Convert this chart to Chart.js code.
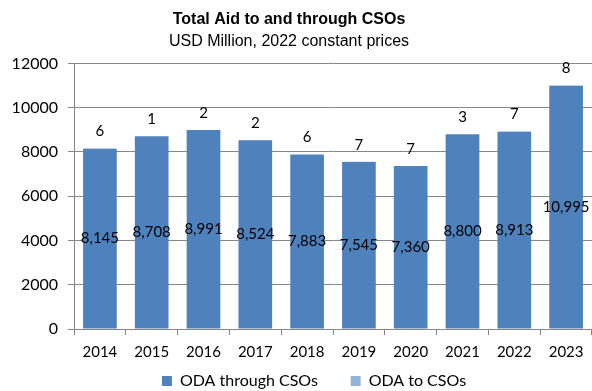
<!DOCTYPE html>
<html>
<head>
<meta charset="utf-8">
<script src="https://cdn.jsdelivr.net/npm/chart.js@4"></script>
<style>
  html, body { margin: 0; padding: 0; background: #fff; }
  #wrap { width: 592px; height: 391px; }
</style>
</head>
<body>
<div id="wrap"><canvas id="aid"></canvas></div>
<script>
const years = ["2014", "2015", "2016", "2017", "2018", "2019", "2020", "2021", "2022", "2023"];
const odaThrough = [8145, 8708, 8991, 8524, 7883, 7545, 7360, 8800, 8913, 10995];
const odaTo = [6, 1, 2, 2, 6, 7, 7, 3, 7, 8];
const yTicks = [0, 2000, 4000, 6000, 8000, 10000, 12000];

const labelFont = "Lato, 'Open Sans', sans-serif";

// draws the value labels like the Excel data labels
const barLabels = {
    id: "barLabels",
    afterDatasetsDraw(chart) {
        const ctx = chart.ctx;
        ctx.save();
        ctx.font = "15px " + labelFont;
        ctx.fillStyle = "#000";
        ctx.textAlign = "center";
        ctx.textBaseline = "middle";
        const m0 = chart.getDatasetMeta(0);
        const m1 = chart.getDatasetMeta(1);
        m0.data.forEach((bar, i) => {
            const mid = (bar.y + bar.base) / 2;
            ctx.fillText(odaThrough[i].toLocaleString("en-US"), bar.x, mid);
        });
        m1.data.forEach((bar, i) => {
            ctx.fillText(String(odaTo[i]), bar.x, bar.y - 17);
        });
        ctx.restore();
    }
};

// nudge title block left and legend right, like the excel layout
const nudgeBoxes = {
    id: "nudgeBoxes",
    afterLayout(chart) {
        chart.boxes.forEach(b => {
            if (b === chart.legend) {
                b.left += 18;
                b.right += 18;
            } else if (b.options && typeof b.options.text === "string") {
                b.left -= 7;
                b.right -= 7;
            }
        });
    }
};

new Chart(document.getElementById("aid"), {
    type: "bar",
    data: {
        labels: years,
        datasets: [
            {
                label: "ODA through CSOs",
                backgroundColor: "#4F81BD",
                data: odaThrough,
                barPercentage: 0.65,
                categoryPercentage: 1
            },
            {
                label: "ODA to CSOs",
                backgroundColor: "#95B3D7",
                data: odaTo,
                barPercentage: 0.65,
                categoryPercentage: 1
            }
        ]
    },
    options: {
        responsive: true,
        maintainAspectRatio: false,
        animation: false,
        layout: { padding: { left: 0, right: 0, top: 10, bottom: -8 } },
        plugins: {
            tooltip: { enabled: false },
            title: {
                display: true,
                text: "Total Aid to and through CSOs",
                color: "#000",
                font: { family: "'Liberation Sans', Arial, sans-serif", size: 16, weight: "bold" },
                padding: { top: 0, bottom: 3 }
            },
            subtitle: {
                display: true,
                text: "USD Million, 2022 constant prices",
                color: "#000",
                font: { family: "'Liberation Sans', Arial, sans-serif", size: 16 },
                padding: { top: 0, bottom: 12 }
            },
            legend: {
                position: "bottom",
                labels: {
                    color: "#000",
                    boxWidth: 10,
                    boxHeight: 10,
                    padding: 4,
                    font: { family: labelFont, size: 16, lineHeight: 1 },
                    generateLabels(chart) {
                        const items = Chart.defaults.plugins.legend.labels.generateLabels(chart);
                        // wider gap between the two entries, as in the original
                        items[0].text = items[0].text + "       ";
                        return items;
                    }
                }
            }
        },
        scales: {
            x: {
                stacked: true,
                offset: true,
                grid: {
                    offset: true,
                    drawOnChartArea: false,
                    tickLength: 6,
                    color: "#868686"
                },
                border: { color: "#868686" },
                ticks: {
                    color: "#000",
                    padding: 8,
                    font: { family: labelFont, size: 15 }
                }
            },
            y: {
                stacked: true,
                min: 0,
                max: 12000,
                afterBuildTicks(axis) {
                    axis.ticks = yTicks.map(v => ({ value: v }));
                },
                afterFit(axis) {
                    axis.width = 74;
                },
                grid: {
                    color: "#868686",
                    tickLength: 6
                },
                border: { color: "#868686" },
                ticks: {
                    color: "#000",
                    padding: 10,
                    font: { family: labelFont, size: 16 },
                    callback: v => String(v)
                }
            }
        }
    },
    plugins: [barLabels, nudgeBoxes]
});
</script>
</body>
</html>
